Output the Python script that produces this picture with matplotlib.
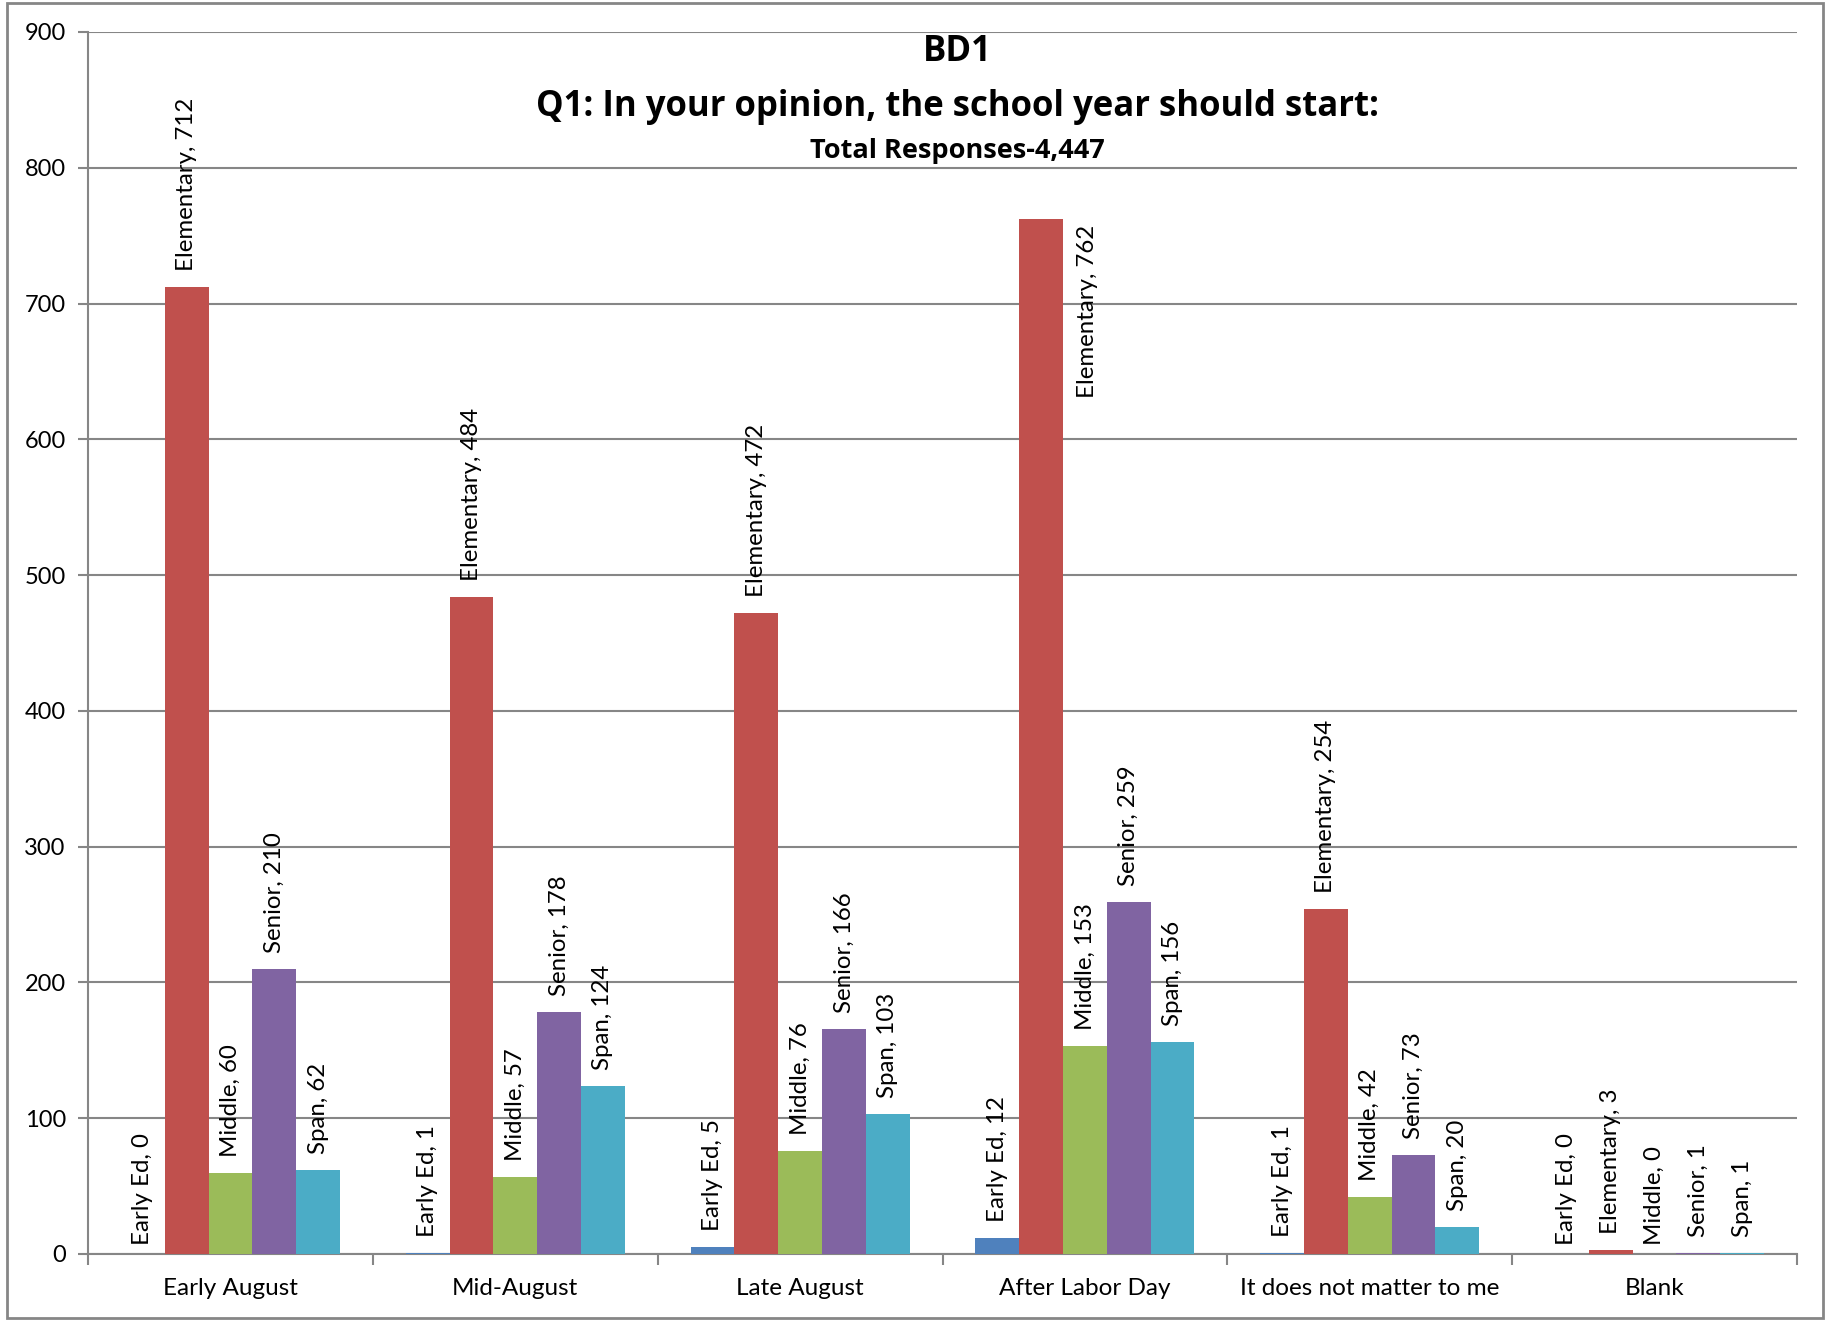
import matplotlib.pyplot as plt
import numpy as np

plt.rcParams['font.family'] = ['Lato', 'DejaVu Sans']

categories = ['Early August', 'Mid-August', 'Late August', 'After Labor Day',
              'It does not matter to me', 'Blank']
series = ['Early Ed', 'Elementary', 'Middle', 'Senior', 'Span']
early_ed = [0, 1, 5, 12, 1, 0]
elementary = [712, 484, 472, 762, 254, 3]
middle = [60, 57, 76, 153, 42, 0]
senior = [210, 178, 166, 259, 73, 1]
span = [62, 124, 103, 156, 20, 1]
values = [early_ed, elementary, middle, senior, span]
colors = ['#4F81BD', '#C0504D', '#9BBB59', '#8064A2', '#4BACC6']

W, H = 1826, 1320
fig = plt.figure(figsize=(W / 100, H / 100), dpi=100)
# plot area in pixels: x 88..1797, y 32..1254
ax = fig.add_axes([88 / W, 1 - 1254 / H, (1797 - 88) / W, (1254 - 32) / H])

grey = '#868686'
n = len(series)
bw = 1 / (n + 1.5)   # Excel gap width 150%
x0 = np.arange(len(categories))
ax.set_xlim(0, len(categories))
ax.set_ylim(0, 900)

labels = []
for i, (name, vals, c) in enumerate(zip(series, values, colors)):
    xs = x0 + 0.75 * bw + i * bw + bw / 2
    bars = ax.bar(xs, vals, width=bw, color=c, linewidth=0, zorder=3)
    for b, v in zip(bars, vals):
        off = 11.5 if v > 0 else 6.5
        t = ax.annotate(f'{name}, {v}', (b.get_x() + b.get_width() / 2, v),
                        xytext=(0, off), textcoords='offset points',
                        rotation=90, ha='center', va='bottom', fontsize=17.3,
                        zorder=4)
        labels.append((t, b, v))

# labels that would stick out above the plot go beside the bar, like Excel does
fig.canvas.draw()
r = fig.canvas.get_renderer()
top = ax.get_window_extent(r).y1
for t, b, v in labels:
    if t.get_window_extent(r).y1 > top:
        t.xy = (b.get_x() + b.get_width(), v)
        t.set_position((10, -4))
        t.set_ha('left')
        t.set_va('top')

ax.set_yticks(range(0, 901, 100))
ax.set_xticks(range(len(categories) + 1))
ax.set_xticklabels([])
ax.set_xticks(x0 + 0.5, minor=True)
ax.set_xticklabels(categories, minor=True)
ax.tick_params(axis='x', which='minor', length=0, pad=17, labelsize=17.5)
ax.tick_params(axis='x', which='major', length=8, width=1.5, color=grey, direction='out')
ax.tick_params(axis='y', length=7, width=1.5, color=grey, labelsize=17, pad=9)
ax.grid(axis='y', color=grey, linewidth=1.5, zorder=0)
ax.set_axisbelow(True)
for s in ['top', 'right']:
    ax.spines[s].set_visible(False)
for s in ['left', 'bottom']:
    ax.spines[s].set_color(grey)
    ax.spines[s].set_linewidth(1.5)

# titles
cx = 957 / W
tf = ['Open Sans', 'DejaVu Sans']
fig.text(cx, 1 - 52 / H, 'BD1', ha='center', va='center', fontsize=25,
         fontweight='bold', family=tf)
fig.text(cx, 1 - 107 / H, 'Q1: In your opinion, the school year should start:',
         ha='center', va='center', fontsize=25, fontweight='bold', family=tf)
fig.text(cx, 1 - 151 / H, 'Total Responses-4,447', ha='center', va='center',
         fontsize=19.5, fontweight='bold', family=tf)

# chart border
fig.patches.append(plt.Rectangle((7 / W, 2 / H), (1823 - 7) / W, (1317 - 2) / H,
                                 transform=fig.transFigure, fill=False,
                                 edgecolor=grey, linewidth=2))

fig.savefig('out.png', dpi=100)
